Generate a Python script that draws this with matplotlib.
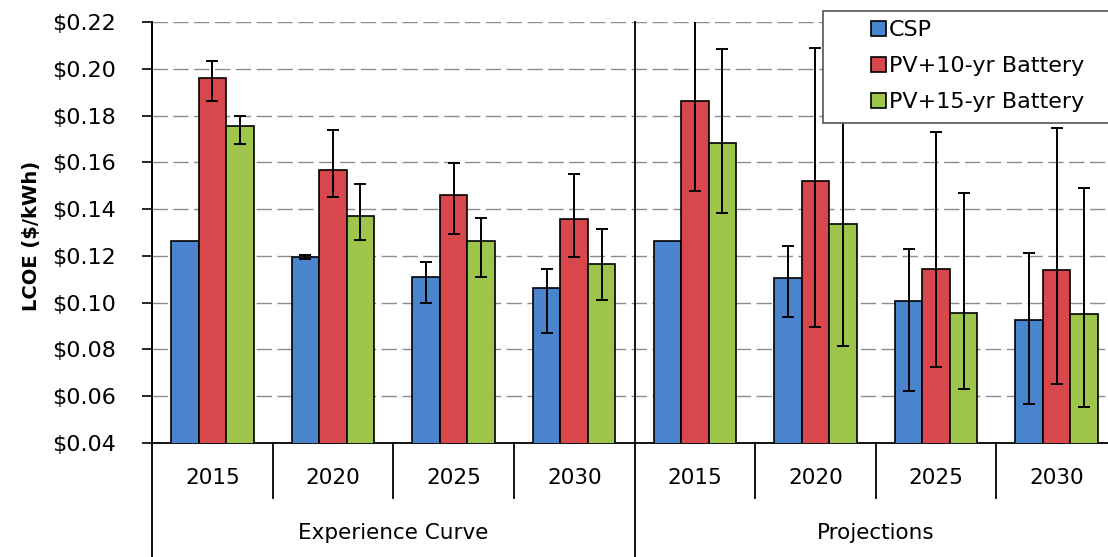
import numpy as np
import matplotlib
matplotlib.use("Agg")
import matplotlib.pyplot as plt
from matplotlib.patches import Rectangle, Patch
from matplotlib.ticker import FuncFormatter

# ---- data ----
years = ["2015", "2020", "2025", "2030", "2015", "2020", "2025", "2030"]
groups = ["Experience Curve", "Projections"]
series = ["CSP", "PV+10-yr Battery", "PV+15-yr Battery"]

csp = [0.1265, 0.1197, 0.1111, 0.1064, 0.1264, 0.1104, 0.1008, 0.0926]
pv10 = [0.1959, 0.1567, 0.1462, 0.1356, 0.1862, 0.1520, 0.1143, 0.1140]
pv15 = [0.1757, 0.1370, 0.1265, 0.1164, 0.1684, 0.1335, 0.0955, 0.0952]

nan = float("nan")
csp_lo = [nan, 0.1188, 0.0997, 0.0872, nan, 0.0940, 0.0624, 0.0567]
csp_hi = [nan, 0.1203, 0.1173, 0.1144, nan, 0.1242, 0.1229, 0.1211]
pv10_lo = [0.1863, 0.1450, 0.1292, 0.1197, 0.1477, 0.0897, 0.0726, 0.0652]
pv10_hi = [0.2034, 0.1738, 0.1596, 0.1549, 0.2250, 0.2090, 0.1728, 0.1745]
pv15_lo = [0.1678, 0.1268, 0.1111, 0.1011, 0.1382, 0.0815, 0.0631, 0.0553]
pv15_hi = [0.1798, 0.1506, 0.1363, 0.1314, 0.2083, 0.1855, 0.1470, 0.1489]

colors = ["#4a84cc", "#d8474c", "#9cc54a"]

# ---- figure ----
W, H = 1108, 557
fig = plt.figure(figsize=(W / 100, H / 100), dpi=100)
plt.rcParams["font.family"] = ["DejaVu Sans"]
FS = 15.5

ax = fig.add_axes([152 / W, 1 - 443 / H, 1 - 152 / W, (443 - 22) / H])

x = np.arange(len(years))
bw = 0.228
offs = [-bw, 0, bw]
vals = [csp, pv10, pv15]
los = [csp_lo, pv10_lo, pv15_lo]
his = [csp_hi, pv10_hi, pv15_hi]

for v, lo, hi, off, c, name in zip(vals, los, his, offs, colors, series):
    v = np.array(v); lo = np.array(lo); hi = np.array(hi)
    ax.bar(x + off, v, bw, color=c, edgecolor="black", linewidth=1.2,
           label=name, zorder=3)
    m = ~np.isnan(lo)
    ax.errorbar((x + off)[m], v[m], yerr=[v[m] - lo[m], hi[m] - v[m]],
                fmt="none", ecolor="black", elinewidth=1.4, capsize=4.3,
                capthick=1.4, zorder=4)

ax.set_ylim(0.04, 0.22)
ax.set_xlim(-0.5, 7.5 - 9 / 120.6)
ax.set_yticks(np.arange(0.04, 0.2201, 0.02))
ax.yaxis.set_major_formatter(FuncFormatter(lambda v, p: "\\$" + f"{v:.2f}"))
ax.tick_params(axis="y", direction="out", length=7, width=1.2, pad=19,
               labelsize=16, colors="black")
ax.set_xticks([])
ax.yaxis.grid(True, linestyle=(0, (11, 4)), color="#8c8c8c", linewidth=1.0,
              zorder=0)
ax.set_axisbelow(True)
for s in ["top", "right"]:
    ax.spines[s].set_visible(False)
ax.spines["left"].set_linewidth(1.3)
ax.spines["bottom"].set_linewidth(1.3)

# category and group labels below axis
tr = ax.get_xaxis_transform()
ah = 443 - 22
for i, yl in enumerate(years):
    ax.text(i, (443 - 478) / ah, yl, transform=tr, ha="center", va="center",
            fontsize=FS, clip_on=False)
for b in [0.5, 1.5, 2.5, 4.5, 5.5, 6.5]:
    ax.plot([b, b], [0, (443 - 498) / ah], transform=tr, color="black",
            linewidth=1.3, clip_on=False)
for b in [-0.5, 3.5]:
    ax.plot([b, b], [(443 - 560) / ah, 1], transform=tr, color="black",
            linewidth=1.3, clip_on=False, zorder=5)
ax.text(1.5, (443 - 533) / ah, groups[0], transform=tr, ha="center",
        va="center", fontsize=FS, clip_on=False)
ax.text(5.5, (443 - 533) / ah, groups[1], transform=tr, ha="center",
        va="center", fontsize=FS, clip_on=False)

fig.text(32 / W, 1 - 236 / H, "LCOE (\\$/kWh)", rotation=90, ha="center",
         va="center", fontsize=14, fontweight="bold")

# legend box
fig.patches.append(Rectangle((823 / W, 1 - 123 / H), (1120 - 823) / W,
                             (123 - 11) / H, transform=fig.transFigure,
                             facecolor="white", edgecolor="#555555",
                             linewidth=1.2, zorder=10))
handles = [Patch(facecolor=c, edgecolor="black", linewidth=1.2) for c in colors]
leg = fig.legend(handles, series, loc="upper left",
                 bbox_to_anchor=(871 / W, 1 - 20 / H), frameon=False,
                 fontsize=16, handlelength=0.68, handleheight=0.68,
                 handletextpad=0.14, labelspacing=0.72, borderpad=0,
                 borderaxespad=0)
leg.set_zorder(11)

fig.savefig("out.png", dpi=100)
